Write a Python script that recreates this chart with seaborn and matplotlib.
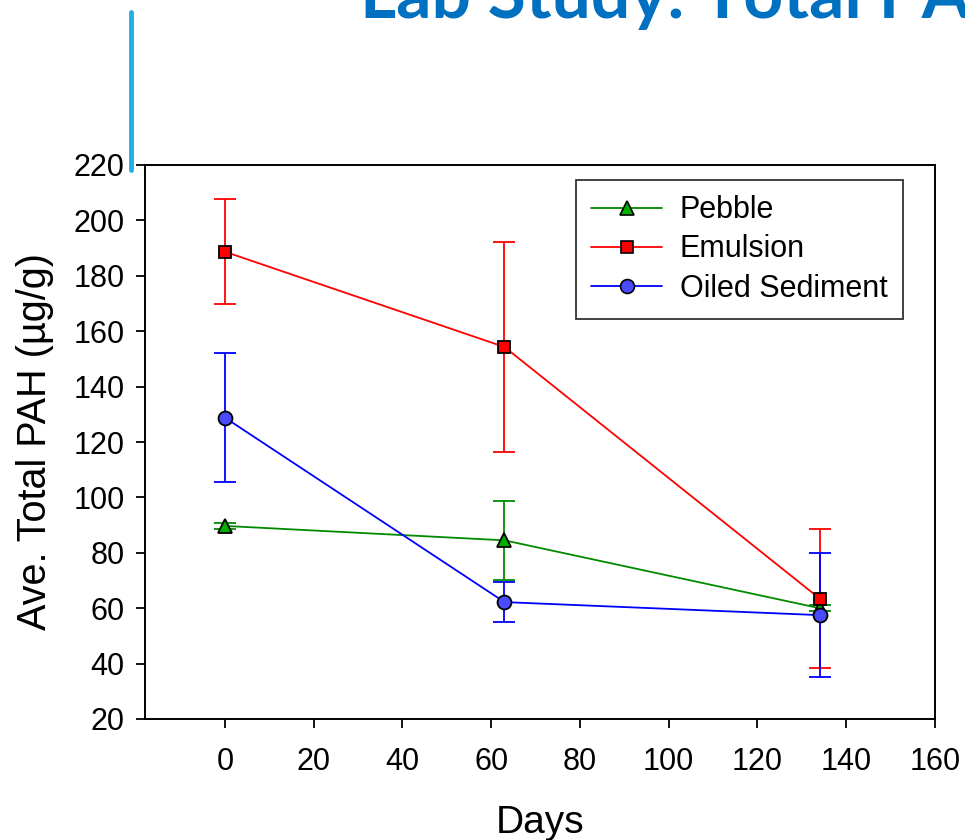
import matplotlib
matplotlib.use("Agg")
import matplotlib.pyplot as plt
import seaborn as sns
import pandas as pd
from matplotlib.lines import Line2D

sns.set_theme(style="white")
plt.rcParams['font.family'] = ['Liberation Sans', 'DejaVu Sans']

# Data
days = [0, 63, 134]
series_names = ["Pebble", "Emulsion", "Oiled Sediment"]
pebble = [89.7, 84.5, 60.0]
pebble_err = [1.0, 14.2, 1.0]
emulsion = [188.7, 154.3, 63.5]
emulsion_err = [19.0, 38.0, 25.0]
oiled = [128.8, 62.2, 57.5]
oiled_err = [23.3, 7.3, 22.5]

xticks = [0, 20, 40, 60, 80, 100, 120, 140, 160]
yticks = [20, 40, 60, 80, 100, 120, 140, 160, 180, 200, 220]

values = {"Pebble": pebble, "Emulsion": emulsion, "Oiled Sediment": oiled}
errors = {"Pebble": pebble_err, "Emulsion": emulsion_err, "Oiled Sediment": oiled_err}
line_colors = {"Pebble": "#008a00", "Emulsion": "#ff0000", "Oiled Sediment": "#0000ff"}
face_colors = {"Pebble": "#00b000", "Emulsion": "#ff0000", "Oiled Sediment": "#4a4aff"}
markers = {"Pebble": "^", "Emulsion": "s", "Oiled Sediment": "o"}
msizes = {"Pebble": 10.5, "Emulsion": 9, "Oiled Sediment": 10}

rows = []
for name in series_names:
    for d, v, e in zip(days, values[name], errors[name]):
        rows.append({"Days": d, "PAH": v, "err": e, "Series": name})
df = pd.DataFrame(rows)

fig = plt.figure(figsize=(9.65, 8.4), dpi=100)
ax = fig.add_axes([145/965, 1-719/840, (935-145)/965, (719-165)/840])

for name in series_names:
    sub = df[df["Series"] == name]
    ax.errorbar(sub["Days"], sub["PAH"], yerr=sub["err"], fmt='none',
                ecolor=line_colors[name], elinewidth=1.3, capsize=8, capthick=1.3, zorder=2)

for name in series_names:
    sub = df[df["Series"] == name]
    sns.lineplot(data=sub, x="Days", y="PAH", ax=ax, color=line_colors[name],
                 marker=markers[name], markersize=msizes[name],
                 markerfacecolor=face_colors[name], markeredgecolor="black",
                 markeredgewidth=1.3, linewidth=1.3, label=name, zorder=3,
                 errorbar=None)

ax.set_xlim(-18, 160)
ax.set_ylim(20, 220)
ax.set_xticks(xticks)
ax.set_yticks(yticks)
ax.tick_params(axis='both', direction='out', length=6.5, width=1.3, color='black',
               labelsize=22, labelcolor='black', bottom=True, left=True)
ax.tick_params(axis='y', pad=8)
ax.tick_params(axis='x', pad=14)
for sp in ax.spines.values():
    sp.set_color('black')
    sp.set_linewidth(1.4)

ax.set_xlabel("Days", fontsize=28, color='black', labelpad=20)
ax.set_ylabel("Ave. Total PAH (µg/g)", fontsize=28.5, color='black', labelpad=14)

handles = [Line2D([0], [0], color=line_colors[n], marker=markers[n],
                  markersize=msizes[n], markerfacecolor=face_colors[n],
                  markeredgecolor='black', markeredgewidth=1.2, linewidth=1.3)
           for n in series_names]
leg = ax.legend(handles, series_names, loc='upper right',
                bbox_to_anchor=((903-145)/790, (719-180)/554),
                fontsize=22, frameon=True, fancybox=False, edgecolor='black',
                labelcolor='black',
                handlelength=2.3, handletextpad=0.6, borderpad=0.5, labelspacing=0.3,
                borderaxespad=0)
leg.get_frame().set_linewidth(1.3)

# Slide decorations: accent bar and cut-off title
fig.add_artist(Line2D([131/965, 131/965], [1-12/840, 1-170/840], color='#22aee6',
                      linewidth=3.5, transform=fig.transFigure))
fig.text(360/965, 1-18/840, "Lab Study: Total PAH", fontsize=50, fontweight='bold',
         color='#0070c0', family=['Lato', 'DejaVu Sans'], ha='left', va='baseline')

fig.savefig("out.png", dpi=100, facecolor='white')
